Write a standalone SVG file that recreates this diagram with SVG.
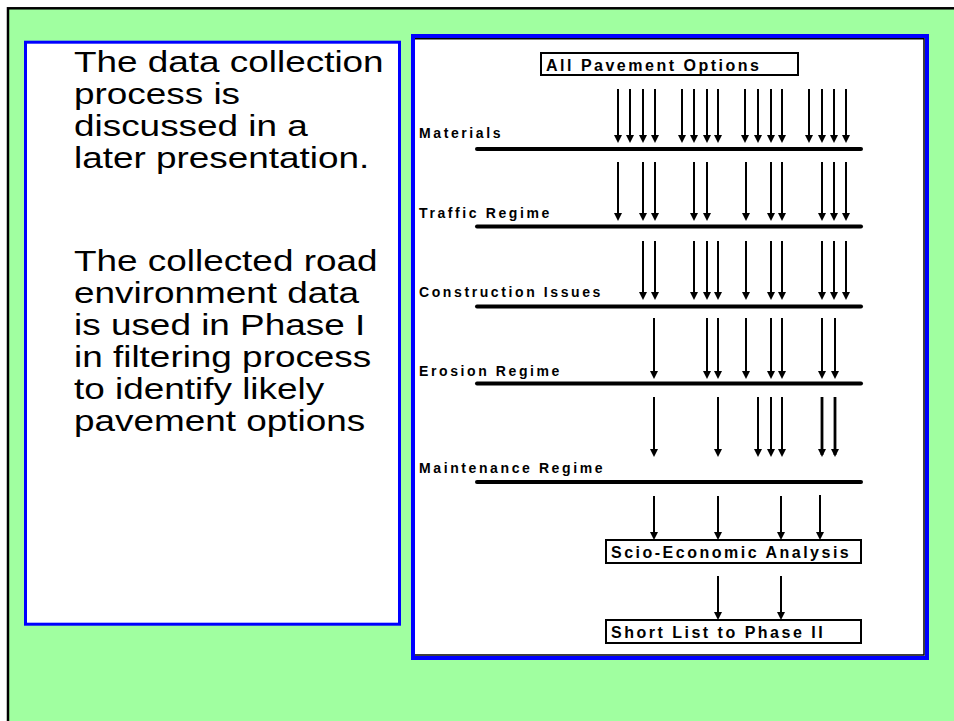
<svg xmlns="http://www.w3.org/2000/svg" width="954" height="721" viewBox="0 0 954 721">
<style>
.body{font-family:"Liberation Sans",Arial,sans-serif;font-size:30px;fill:#000}
.lbl{font-family:"Liberation Sans",Arial,sans-serif;font-size:14px;font-weight:bold;letter-spacing:2.6px;fill:#000}
.btx{font-family:"Liberation Sans",Arial,sans-serif;font-size:16px;font-weight:bold;letter-spacing:2.5px;fill:#000}
.bar{stroke:#000;stroke-width:4;stroke-linecap:round}
.box{fill:#fff;stroke:#000;stroke-width:2}
.arr line{stroke:#000;stroke-width:2;marker-end:url(#ah)}
.arr line.thick{stroke-width:2.8}
</style>
<defs>
<marker id="ah" markerUnits="userSpaceOnUse" markerWidth="10" markerHeight="9" refX="6" refY="4" orient="auto" viewBox="0 0 10 9">
<path d="M0,0 L8,4 L0,8 z" fill="#000"/>
</marker>
</defs>
<rect x="0" y="0" width="954" height="721" fill="#fff"/>
<rect x="8" y="8.3" width="960" height="730" fill="#A0FFA0" stroke="#000" stroke-width="2.5"/>

<g id="note">
<rect x="25.5" y="42.2" width="374" height="582" fill="#fff" stroke="#0000FF" stroke-width="3"/>
<g transform="scale(1.23,1)">
<text class="body" x="60.2" y="72.5">The data collection</text>
<text class="body" x="60.2" y="104.5">process is</text>
<text class="body" x="60.2" y="136.5">discussed in a</text>
<text class="body" x="60.2" y="168.5">later presentation.</text>
<text class="body" x="60.2" y="271.5">The collected road</text>
<text class="body" x="60.2" y="303.5">environment data</text>
<text class="body" x="60.2" y="335.5">is used in Phase I</text>
<text class="body" x="60.2" y="367.5">in filtering process</text>
<text class="body" x="60.2" y="399.5">to identify likely</text>
<text class="body" x="60.2" y="431.5">pavement options</text>
</g>
</g>

<g id="panel">
<rect x="413" y="36" width="514" height="622" fill="#fff" stroke="#0000FF" stroke-width="4"/>
<path d="M415,38.8 H924 V655 H415" fill="none" stroke="#000" stroke-width="1.5"/>
</g>

<g id="all-options">
<rect class="box" x="541" y="53" width="257" height="22"/>
<text class="btx" x="546" y="70.5">All Pavement Options</text>
</g>

<g id="materials">
<text class="lbl" x="419" y="138">Materials</text>
<line class="bar" x1="477" y1="149" x2="861" y2="149"/>
</g>
<g id="traffic">
<text class="lbl" x="419" y="217.5">Traffic Regime</text>
<line class="bar" x1="477" y1="226.5" x2="861" y2="226.5"/>
</g>
<g id="construction">
<text class="lbl" x="419" y="297">Construction Issues</text>
<line class="bar" x1="477" y1="306.5" x2="861" y2="306.5"/>
</g>
<g id="erosion">
<text class="lbl" x="419" y="375.7">Erosion Regime</text>
<line class="bar" x1="477" y1="383.5" x2="861" y2="383.5"/>
</g>
<g id="maintenance">
<text class="lbl" x="419" y="473">Maintenance Regime</text>
<line class="bar" x1="477" y1="482" x2="861" y2="482"/>
</g>

<g id="socio-economic">
<rect class="box" x="606" y="540" width="255" height="23"/>
<text class="btx" x="611" y="557.5">Scio-Economic Analysis</text>
</g>
<g id="short-list">
<rect class="box" x="606" y="620" width="255" height="23"/>
<text class="btx" x="611" y="637.5">Short List to Phase II</text>
</g>

<g id="connectors" class="arr">
<line x1="618" y1="89" x2="618" y2="141"/>
<line x1="630" y1="89" x2="630" y2="141"/>
<line x1="643" y1="89" x2="643" y2="141"/>
<line x1="655" y1="89" x2="655" y2="141"/>
<line x1="682" y1="89" x2="682" y2="141"/>
<line x1="694" y1="89" x2="694" y2="141"/>
<line x1="707" y1="89" x2="707" y2="141"/>
<line x1="718" y1="89" x2="718" y2="141"/>
<line x1="745" y1="89" x2="745" y2="141"/>
<line x1="758" y1="89" x2="758" y2="141"/>
<line x1="771" y1="89" x2="771" y2="141"/>
<line x1="782" y1="89" x2="782" y2="141"/>
<line x1="809" y1="89" x2="809" y2="141"/>
<line x1="822" y1="89" x2="822" y2="141"/>
<line x1="834" y1="89" x2="834" y2="141"/>
<line x1="846" y1="89" x2="846" y2="141"/>
<line x1="618" y1="162" x2="618" y2="219"/>
<line x1="643" y1="162" x2="643" y2="219"/>
<line x1="655" y1="162" x2="655" y2="219"/>
<line x1="694" y1="162" x2="694" y2="219"/>
<line x1="707" y1="162" x2="707" y2="219"/>
<line x1="746" y1="162" x2="746" y2="219"/>
<line x1="771" y1="162" x2="771" y2="219"/>
<line x1="782" y1="162" x2="782" y2="219"/>
<line x1="822" y1="162" x2="822" y2="219"/>
<line x1="834" y1="162" x2="834" y2="219"/>
<line x1="846" y1="162" x2="846" y2="219"/>
<line x1="643" y1="241" x2="643" y2="298"/>
<line x1="655" y1="241" x2="655" y2="298"/>
<line x1="694" y1="241" x2="694" y2="298"/>
<line x1="707" y1="241" x2="707" y2="298"/>
<line x1="718" y1="241" x2="718" y2="298"/>
<line x1="746" y1="241" x2="746" y2="298"/>
<line x1="771" y1="241" x2="771" y2="298"/>
<line x1="782" y1="241" x2="782" y2="298"/>
<line x1="822" y1="241" x2="822" y2="298"/>
<line x1="834" y1="241" x2="834" y2="298"/>
<line x1="846" y1="241" x2="846" y2="298"/>
<line x1="654" y1="318" x2="654" y2="377"/>
<line x1="707" y1="318" x2="707" y2="377"/>
<line x1="718" y1="318" x2="718" y2="377"/>
<line x1="746" y1="318" x2="746" y2="377"/>
<line x1="771" y1="318" x2="771" y2="377"/>
<line x1="782" y1="318" x2="782" y2="377"/>
<line x1="822" y1="318" x2="822" y2="377"/>
<line x1="835" y1="318" x2="835" y2="377"/>
<line x1="654" y1="397" x2="654" y2="455"/>
<line x1="718" y1="397" x2="718" y2="455"/>
<line x1="758" y1="397" x2="758" y2="455"/>
<line x1="771" y1="397" x2="771" y2="455"/>
<line x1="782" y1="397" x2="782" y2="455"/>
<line class="thick" x1="822" y1="397" x2="822" y2="455"/>
<line class="thick" x1="835" y1="397" x2="835" y2="455"/>
<line x1="654" y1="496" x2="654" y2="538"/>
<line x1="718" y1="496" x2="718" y2="538"/>
<line x1="781" y1="496" x2="781" y2="538"/>
<line x1="820" y1="495" x2="820" y2="538"/>
<line x1="718" y1="576" x2="718" y2="618"/>
<line x1="781" y1="576" x2="781" y2="618"/>
</g>
</svg>
